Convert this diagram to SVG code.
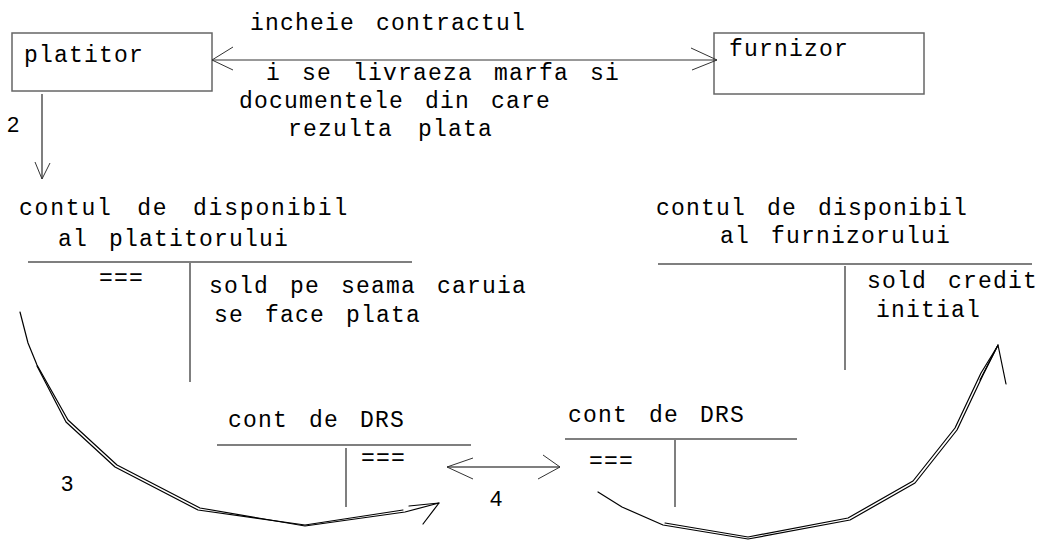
<svg xmlns="http://www.w3.org/2000/svg" width="1043" height="540" viewBox="0 0 1043 540">
  <style>
    .mono { font-family: "Liberation Mono", "DejaVu Sans Mono", monospace; font-size: 23px; letter-spacing: 1.2px; word-spacing: 6px; fill: #000; }
    .num { font-family: "Liberation Sans", Arial, sans-serif; font-size: 22px; fill: #000; }
    .box { fill: #fff; stroke: #666; stroke-width: 1.5; }
    .rule { fill: none; stroke: #555; stroke-width: 1.5; }
    .link { fill: none; stroke: #333; stroke-width: 1; }
    .curve { fill: none; stroke: #000; stroke-width: 1.2; stroke-linejoin: round; stroke-linecap: round; }
  </style>
  <rect width="1043" height="540" fill="#fff"/>

  <!-- parties -->
  <g id="platitor">
    <rect class="box" x="12" y="33" width="200" height="58"/>
    <text class="mono" x="24" y="62">platitor</text>
  </g>
  <g id="furnizor">
    <rect class="box" x="714" y="33" width="210" height="61"/>
    <text class="mono" x="729" y="56">furnizor</text>
  </g>

  <!-- relation labels -->
  <g id="contract-label">
    <text class="mono" x="250" y="30">incheie contractul</text>
  </g>
  <g id="delivery-label">
    <text class="mono" x="266" y="80">i se livraeza marfa si</text>
    <text class="mono" x="239" y="108">documentele din care</text>
    <text class="mono" x="288" y="136" style="word-spacing:10px">rezulta plata</text>
  </g>

  <!-- payer account -->
  <g id="cont-platitor">
    <text class="mono" x="19" y="215" style="letter-spacing:1.8px;word-spacing:9px">contul de disponibil</text>
    <text class="mono" x="58" y="246">al platitorului</text>
    <line class="rule" x1="28" y1="262" x2="412" y2="262"/>
    <line class="rule" x1="190" y1="263" x2="190" y2="382"/>
    <text class="mono" x="99" y="285">===</text>
    <text class="mono" x="209" y="293">sold pe seama caruia</text>
    <text class="mono" x="214" y="322">se face plata</text>
  </g>

  <!-- supplier account -->
  <g id="cont-furnizor">
    <text class="mono" x="656" y="215">contul de disponibil</text>
    <text class="mono" x="720" y="243">al furnizorului</text>
    <line class="rule" x1="658" y1="264" x2="1032" y2="264"/>
    <line class="rule" x1="845" y1="266" x2="845" y2="370"/>
    <text class="mono" x="867" y="288">sold credit</text>
    <text class="mono" x="876" y="317">initial</text>
  </g>

  <!-- DRS account, payer side -->
  <g id="drs-platitor">
    <text class="mono" x="228" y="427">cont de DRS</text>
    <line class="rule" x1="217" y1="445" x2="471" y2="445"/>
    <line class="rule" x1="346" y1="448" x2="346" y2="507"/>
    <text class="mono" x="361" y="465">===</text>
  </g>

  <!-- DRS account, supplier side -->
  <g id="drs-furnizor">
    <text class="mono" x="568" y="422">cont de DRS</text>
    <line class="rule" x1="565" y1="439" x2="797" y2="439"/>
    <line class="rule" x1="675" y1="440" x2="675" y2="507"/>
    <text class="mono" x="589" y="468">===</text>
  </g>

  <!-- step numbers -->
  <g id="steps">
    <text class="num" x="7" y="132">2</text>
    <text class="num" x="61" y="491">3</text>
    <text class="num" x="490" y="506">4</text>
  </g>

  <!-- connectors -->
  <g id="connectors">
    <!-- contract / delivery between the parties -->
    <line class="link" x1="212" y1="60" x2="717" y2="60"/>
    <polyline class="link" points="233,47 212,60 233,70"/>
    <polyline class="link" points="691,48 717,60 692,70"/>

    <!-- step 2 -->
    <line class="rule" x1="42" y1="94" x2="42" y2="179"/>
    <polyline class="link" points="35,162 42,179 50,163"/>

    <!-- step 3 -->
    <polyline class="curve" points="20,312 28,343 37,365 68,420 117,465 200,508 305,526 405,512 439,503"/>
    <polyline class="curve" points="37,366 66,422 115,467 198,510 305,525 403,510"/>
    <polyline class="curve" points="409,506 439,503 423,524"/>

    <!-- step 4 -->
    <line class="rule" x1="447" y1="467" x2="560" y2="467"/>
    <polyline class="link" points="473,458 447,467 473,479"/>
    <polyline class="link" points="543,455 560,467 538,479"/>

    <!-- transfer to supplier -->
    <polyline class="curve" points="598,492 622,507 663,525 748,539 850,520 915,483 957,430 983,375 998,345"/>
    <polyline class="curve" points="665,523 748,537 848,518 913,481 955,428 981,373 997,347"/>
    <polyline class="curve" points="980,380 998,345 1006,384"/>
  </g>
</svg>
